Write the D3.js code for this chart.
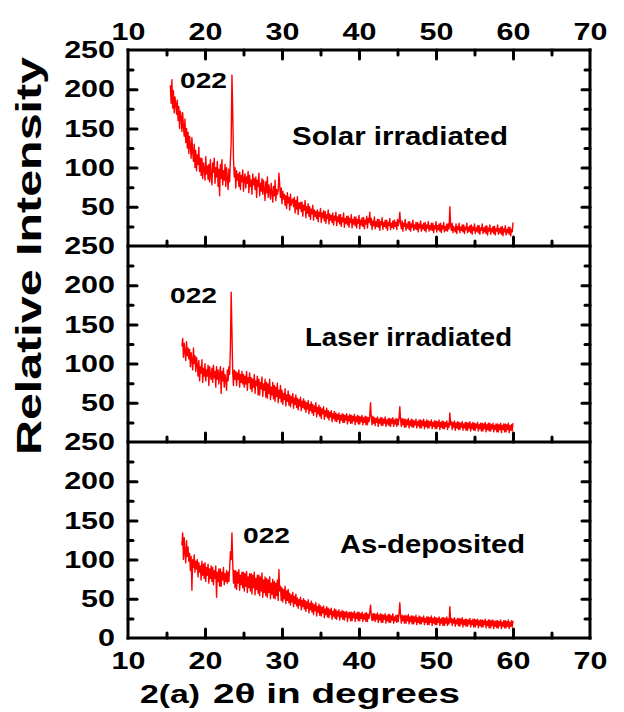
<!DOCTYPE html>
<html><head><meta charset="utf-8">
<script src="https://cdn.jsdelivr.net/npm/d3@7"></script>
<style>
html,body{margin:0;padding:0;background:#fff;}
text{font-family:"Liberation Sans",Arial,sans-serif;font-weight:bold;fill:#000;}
</style>
</head><body>
<svg id="chart" width="624" height="712"></svg>
<script>
// ---------- data ----------
const panelNames = ["Solar irradiated", "Laser irradiated", "As-deposited"];
const thetaStart = [15.5, 17.0, 17.0];
const thetaStep = 0.1;
const solar = [
205,182,212,176,198,170,190,181,168,186,
160,178,150,172,165,146,170,152,140,162,
132,150,125,145,118,140,128,112,138,120,
108,130,100,122,96,116,104,126,95,112,
90,112,86,106,98,84,114,92,102,85,
104,82,110,90,78,106,94,112,80,100,
88,108,76,98,64,104,86,110,78,96,
84,104,76,100,88,72,98,82,110,132,
218,172,112,88,100,74,96,84,92,76,
94,72,90,82,97,70,86,92,74,88,
80,95,68,90,76,84,66,92,78,86,
72,88,62,84,76,93,64,80,70,86,
66,84,72,58,82,68,88,62,78,70,
60,80,68,56,76,64,84,58,72,66,
70,93,78,62,74,54,70,60,66,52,
64,48,68,55,62,46,66,52,58,60,
50,62,42,58,47,63,40,55,48,56,
44,56,38,52,46,58,36,50,42,54,
38,50,34,47,41,52,33,46,38,44,
35,46,31,43,38,48,30,42,36,45,
32,44,29,40,35,46,28,41,33,39,
30,42,27,38,33,43,26,37,31,40,
28,40,25,36,31,42,24,35,29,38,
27,38,24,35,30,40,23,34,28,37,
26,37,23,34,29,39,22,33,27,36,
25,36,22,33,28,38,23,35,30,43,
27,35,21,32,26,37,22,31,25,34,
24,34,20,31,27,36,21,30,25,33,
23,33,20,30,26,35,21,29,24,32,
22,33,25,30,21,34,26,31,43,28,
22,32,19,29,25,34,20,28,23,31,
21,31,19,28,24,33,20,27,22,30,
21,30,18,28,23,32,19,27,22,29,
20,30,18,27,23,31,19,26,21,29,
20,29,17,26,22,31,18,26,21,28,
19,29,17,26,22,30,18,25,20,28,
19,28,22,50,26,20,29,17,25,21,
18,28,16,25,21,29,17,24,20,27,
18,27,16,24,21,29,17,24,19,26,
17,27,15,24,20,28,16,23,19,26,
17,26,15,23,20,28,16,23,18,25,
16,26,14,23,19,27,15,22,18,25,
16,25,14,22,19,27,15,22,17,24,
15,25,13,22,18,26,14,21,17,24,
15,24,13,21,18,30];
const laser = [
122,132,108,126,115,104,128,110,120,106,
118,96,114,104,92,120,100,110,90,108,
98,84,104,78,96,88,105,76,94,84,
100,78,92,84,98,72,96,86,80,94,
76,98,82,90,70,96,80,92,74,88,
96,62,90,78,94,70,86,80,66,92,
78,96,86,120,191,140,88,72,92,80,
90,72,88,80,92,70,86,76,90,74,
86,70,84,74,90,66,82,76,88,68,
82,64,80,70,86,62,78,72,84,60,
80,60,76,68,83,58,74,66,80,57,
76,56,74,62,80,54,70,60,76,55,
72,52,70,58,75,50,66,56,72,51,
66,48,62,54,68,46,60,52,65,47,
60,45,58,50,62,43,56,48,60,44,
56,41,54,46,57,40,52,44,55,42,
52,38,50,42,53,36,48,40,51,37,
48,34,46,39,50,32,44,36,47,33,
44,30,42,36,45,29,40,33,43,31,
40,28,38,32,40,26,36,30,39,27,
37,26,35,29,37,24,34,28,36,25,
35,25,34,28,36,23,33,27,35,24,
34,24,33,27,35,22,32,26,34,23,
33,23,32,26,34,22,31,25,33,22,
32,22,31,26,34,50,30,22,33,24,
31,21,30,25,32,20,29,24,31,21,
31,21,29,24,32,20,28,23,30,21,
30,20,29,24,31,20,28,23,30,20,
29,22,31,45,28,20,30,22,29,19,
29,19,28,22,30,18,27,21,29,19,
28,19,27,22,29,18,26,21,28,18,
28,18,27,21,29,17,26,20,28,18,
27,18,26,21,28,17,25,20,27,17,
27,17,26,20,28,16,25,19,27,17,
26,17,25,20,27,16,24,19,37,22,
26,16,25,19,27,15,24,18,26,16,
25,16,24,19,26,15,23,18,25,15,
25,15,24,18,26,14,23,17,25,15,
24,15,23,18,25,14,22,17,24,14,
24,14,23,17,25,13,22,16,24,14,
24,14,22,17,24,13,21,16,23,13,
23,13,22,16,24,12,21,16,23,13,
23,13,22,16,24,12,21,15,22,14,
24];
const asDeposited = [
118,134,100,128,108,96,124,104,116,98,
108,86,104,61,100,90,106,84,98,88,
100,78,96,84,92,74,98,80,94,76,
96,72,90,80,94,70,88,76,92,72,
90,68,86,76,92,52,84,72,88,66,
88,66,84,74,90,68,82,72,86,70,
84,72,88,110,100,134,96,70,86,64,
86,62,84,70,87,61,80,68,84,64,
84,60,82,66,85,58,78,64,82,60,
82,56,80,64,84,55,76,62,80,57,
80,54,78,60,83,52,74,58,78,54,
76,52,74,58,78,50,70,56,75,51,
72,50,70,54,74,48,87,60,66,48,
64,46,62,50,66,44,60,48,62,45,
57,42,55,46,58,40,53,44,56,41,
51,38,49,42,52,36,48,40,50,37,
48,34,46,38,49,32,44,36,47,33,
44,30,42,35,45,28,40,33,43,29,
41,28,39,32,41,26,37,30,40,27,
38,26,36,30,38,24,34,28,37,25,
36,24,34,28,36,23,33,27,35,24,
34,23,33,27,34,21,32,26,33,22,
33,22,32,26,34,21,31,25,33,22,
33,22,31,25,33,21,30,24,32,21,
32,21,30,25,33,42,29,22,31,23,
31,21,30,24,32,20,29,23,31,20,
30,20,29,24,31,19,28,22,30,20,
30,20,28,23,31,19,27,22,29,20,
29,21,31,45,28,19,29,22,28,19,
29,19,28,22,30,18,27,21,28,18,
28,18,27,21,29,17,26,20,28,18,
27,18,26,21,28,17,25,20,27,17,
27,17,26,20,28,16,25,19,27,17,
26,17,25,20,27,16,24,19,26,16,
26,16,25,19,27,16,24,18,40,20,
25,16,24,19,26,15,23,18,25,16,
25,15,24,18,26,14,23,17,24,15,
24,15,23,18,25,14,22,17,24,14,
24,14,23,17,24,13,22,16,23,14,
23,14,22,17,24,13,21,16,23,13,
23,13,22,16,23,12,21,15,22,13,
22,13,21,16,23,12,20,15,22,13,
22,13,21,15,23,12,20,15,22,14,
22];
const series = [solar, laser, asDeposited];
const xTicks = [10, 20, 30, 40, 50, 60, 70];
const xMinor = [15, 25, 35, 45, 55, 65];
const yTicksUpper = [50, 100, 150, 200, 250];
const yTicksLower = [0, 50, 100, 150, 200, 250];
const yMinor = [25, 75, 125, 175, 225];
const peakLabel = "022";
const xTitleA = "2(a)";
const xTitleB = "2\u03b8 in degrees";
const yTitle = "Relative Intensity";

// ---------- layout ----------
const L = 128, R = 590, T = 50, PH = 196;
const SX = 1.27; // horizontal text stretch
const svg = d3.select("#chart");
svg.append("rect").attr("width",624).attr("height",712).attr("fill","#fff");

const x = d3.scaleLinear().domain([10, 70]).range([L, R]);

const nameBox = [[292,145,216],[305,346,207],[340,553,185]];
const peakBox = [[180,88,47],[170,303,47],[243,543,47]];

function styleTicks(g){
  g.select(".domain").remove();
  g.selectAll(".tick line").attr("stroke","#000").attr("stroke-width",3).attr("stroke-linecap","round");
}
function styleLabels(g){
  g.selectAll(".tick text").attr("font-size",24).attr("font-family",null)
    .attr("transform",`scale(${SX},1)`);
}

for (let i = 0; i < 3; i++) {
  const top = T + i*PH, bot = T + (i+1)*PH;
  const y = d3.scaleLinear().domain([0, 250]).range([bot, top]);
  const g = svg.append("g");
  const yt = i === 2 ? yTicksLower : yTicksUpper;

  // data line
  const vals = series[i];
  const pts = vals.map((v, k) => [thetaStart[i] + k*thetaStep, v]);
  g.append("path").datum(pts)
    .attr("fill","none").attr("stroke","#ff0000").attr("stroke-width",1.4).attr("stroke-linejoin","round")
    .attr("d", d3.line().x(d => x(d[0])).y(d => y(d[1])));

  // left axis
  const gl = g.append("g").attr("transform",`translate(${L},0)`)
    .call(d3.axisLeft(y).tickValues(yt).tickSize(-9).tickPadding(13).tickFormat(d3.format("d")));
  styleTicks(gl);
  gl.selectAll(".tick").filter(d => d === 0 || d === 250).select("line").remove();
  styleLabels(gl);
  gl.selectAll(".tick text").attr("x",-13/SX);
  const glm = g.append("g").attr("transform",`translate(${L},0)`)
    .call(d3.axisLeft(y).tickValues(yMinor).tickSize(-5).tickFormat(""));
  styleTicks(glm);

  // right axis ticks
  const gr = g.append("g").attr("transform",`translate(${R},0)`)
    .call(d3.axisRight(y).tickValues(yt.filter(v => v > 0 && v < 250)).tickSize(-8).tickFormat(""));
  styleTicks(gr);
  const grm = g.append("g").attr("transform",`translate(${R},0)`)
    .call(d3.axisRight(y).tickValues(yMinor).tickSize(-5).tickFormat(""));
  styleTicks(grm);

  // bottom ticks of each panel
  const gb = g.append("g").attr("transform",`translate(0,${bot})`)
    .call(d3.axisBottom(x).tickValues(xTicks).tickSize(-9).tickPadding(14).tickFormat(i === 2 ? d3.format("d") : ""));
  styleTicks(gb);
  gb.selectAll(".tick").filter(d => d === 10 || d === 70).select("line").remove();
  styleLabels(gb);
  const gbm = g.append("g").attr("transform",`translate(0,${bot})`)
    .call(d3.axisBottom(x).tickValues(xMinor).tickSize(-5).tickFormat(""));
  styleTicks(gbm);

  if (i === 0) {
    const gt = g.append("g").attr("transform",`translate(0,${top})`)
      .call(d3.axisTop(x).tickValues(xTicks).tickSize(-9).tickPadding(10).tickFormat(d3.format("d")));
    styleTicks(gt);
    gt.selectAll(".tick").filter(d => d === 10 || d === 70).select("line").remove();
    styleLabels(gt);
    const gtm = g.append("g").attr("transform",`translate(0,${top})`)
      .call(d3.axisTop(x).tickValues(xMinor).tickSize(-5).tickFormat(""));
    styleTicks(gtm);
  }

  // labels
  const nb = nameBox[i];
  g.append("text").attr("x",nb[0]).attr("y",nb[1]).attr("font-size",26)
    .attr("textLength",nb[2]).attr("lengthAdjust","spacingAndGlyphs").text(panelNames[i]);
  const pb = peakBox[i];
  g.append("text").attr("x",pb[0]).attr("y",pb[1]).attr("font-size",22)
    .attr("textLength",pb[2]).attr("lengthAdjust","spacingAndGlyphs").text(peakLabel);
}

// frame
const frame = svg.append("g").attr("stroke","#000").attr("stroke-width",3).attr("stroke-linecap","square");
frame.append("line").attr("x1",L).attr("x2",L).attr("y1",T).attr("y2",T+3*PH);
frame.append("line").attr("x1",R).attr("x2",R).attr("y1",T).attr("y2",T+3*PH);
for (let i = 0; i <= 3; i++) {
  frame.append("line").attr("x1",L).attr("x2",R).attr("y1",T+i*PH).attr("y2",T+i*PH);
}

// titles
svg.append("text").attr("transform","translate(41,256) rotate(-90)").attr("text-anchor","middle")
  .attr("font-size",35).attr("textLength",398).attr("lengthAdjust","spacingAndGlyphs").text(yTitle);
svg.append("text").attr("x",140).attr("y",703).attr("font-size",26)
  .attr("textLength",60).attr("lengthAdjust","spacingAndGlyphs").text(xTitleA);
svg.append("text").attr("x",213).attr("y",703).attr("font-size",27)
  .attr("textLength",247).attr("lengthAdjust","spacingAndGlyphs").text(xTitleB);
</script>
</body></html>
